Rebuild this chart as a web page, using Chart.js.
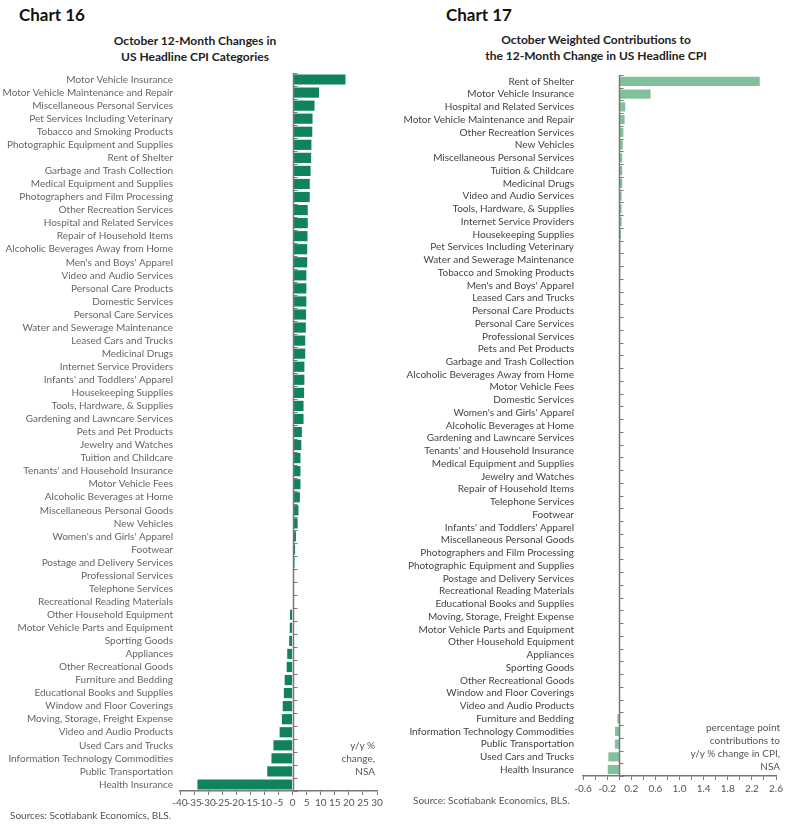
<!DOCTYPE html>
<html>
<head>
<meta charset="utf-8">
<script src="https://cdn.jsdelivr.net/npm/chart.js@4.4.1/dist/chart.umd.min.js"></script>
<style>
  body { margin: 0; background: #fff; font-family: Lato, "Liberation Sans", sans-serif; }
  #page { position: relative; width: 790px; height: 828px; overflow: hidden; }
  .abs { position: absolute; white-space: nowrap; }
  .chartNo { font-weight: bold; font-size: 17px; color: #111; }
  .title { font-weight: bold; font-size: 12px; color: #222; text-align: center; line-height: 16px; }
  .note { font-size: 10px; color: #555; line-height: 13px; text-align: right; }
  .src { font-size: 10px; color: #555; }
  canvas { position: absolute; }
</style>
</head>
<body>
<div id="page">
  <div class="abs chartNo" style="left:19px;top:4px;">Chart 16</div>
  <div class="abs chartNo" style="left:446px;top:4px;">Chart 17</div>
  <div class="abs title" style="left:95px;width:200px;top:33px;">October 12-Month Changes in<br>US Headline CPI Categories</div>
  <div class="abs title" style="left:476px;width:240px;top:32px;">October Weighted Contributions to<br>the 12-Month Change in US Headline CPI</div>

  <canvas id="chart16" width="392" height="750" style="left:0;top:60px;"></canvas>
  <canvas id="chart17" width="390" height="736" style="left:400px;top:60px;"></canvas>

  <div class="abs note" style="left:300px;width:75px;top:739px;">y/y %<br>change,<br>NSA</div>
  <div class="abs note" style="left:640px;width:140px;top:721px;">percentage point<br>contributions to<br>y/y % change in CPI,<br>NSA</div>
  <div class="abs src" style="left:10px;top:809px;">Sources: Scotiabank Economics, BLS.</div>
  <div class="abs src" style="left:413px;top:794px;">Source: Scotiabank Economics, BLS.</div>
</div>

<script>
// Chart 16: 12-month % change by category (y/y %, NSA)
const categories16 = [
  "Motor Vehicle Insurance", "Motor Vehicle Maintenance and Repair", "Miscellaneous Personal Services",
  "Pet Services Including Veterinary", "Tobacco and Smoking Products", "Photographic Equipment and Supplies",
  "Rent of Shelter", "Garbage and Trash Collection", "Medical Equipment and Supplies",
  "Photographers and Film Processing", "Other Recreation Services", "Hospital and Related Services",
  "Repair of Household Items", "Alcoholic Beverages Away from Home", "Men's and Boys' Apparel",
  "Video and Audio Services", "Personal Care Products", "Domestic Services", "Personal Care Services",
  "Water and Sewerage Maintenance", "Leased Cars and Trucks", "Medicinal Drugs", "Internet Service Providers",
  "Infants' and Toddlers' Apparel", "Housekeeping Supplies", "Tools, Hardware, & Supplies",
  "Gardening and Lawncare Services", "Pets and Pet Products", "Jewelry and Watches", "Tuition and Childcare",
  "Tenants' and Household Insurance", "Motor Vehicle Fees", "Alcoholic Beverages at Home",
  "Miscellaneous Personal Goods", "New Vehicles", "Women's and Girls' Apparel", "Footwear",
  "Postage and Delivery Services", "Professional Services", "Telephone Services",
  "Recreational Reading Materials", "Other Household Equipment", "Motor Vehicle Parts and Equipment",
  "Sporting Goods", "Appliances", "Other Recreational Goods", "Furniture and Bedding",
  "Educational Books and Supplies", "Window and Floor Coverings", "Moving, Storage, Freight Expense",
  "Video and Audio Products", "Used Cars and Trucks", "Information Technology Commodities",
  "Public Transportation", "Health Insurance"
];
const values16 = [
  18.8, 9.4, 7.8, 7.1, 7.0, 6.7, 6.6, 6.4, 6.1, 6.1, 5.4, 5.4, 5.3, 5.2, 5.2, 4.9, 4.9, 4.9, 4.8,
  4.7, 4.5, 4.5, 4.2, 4.2, 4.1, 3.9, 3.9, 3.3, 3.1, 2.8, 2.8, 2.8, 2.6, 2.1, 1.8, 1.2, 0.9,
  0.7, 0.5, 0.2, 0.0, -0.9, -1.0, -1.2, -1.9, -2.1, -2.8, -3.1, -3.5, -3.8, -4.6, -6.8, -7.5, -9.0, -33.8
];

// Chart 17: weighted contributions (percentage points)
const categories17 = [
  "Rent of Shelter", "Motor Vehicle Insurance", "Hospital and Related Services",
  "Motor Vehicle Maintenance and Repair", "Other Recreation Services", "New Vehicles",
  "Miscellaneous Personal Services", "Tuition & Childcare", "Medicinal Drugs", "Video and Audio Services",
  "Tools, Hardware, & Supplies", "Internet Service Providers", "Housekeeping Supplies",
  "Pet Services Including Veterinary", "Water and Sewerage Maintenance", "Tobacco and Smoking Products",
  "Men's and Boys' Apparel", "Leased Cars and Trucks", "Personal Care Products", "Personal Care Services",
  "Professional Services", "Pets and Pet Products", "Garbage and Trash Collection",
  "Alcoholic Beverages Away from Home", "Motor Vehicle Fees", "Domestic Services",
  "Women's and Girls' Apparel", "Alcoholic Beverages at Home", "Gardening and Lawncare Services",
  "Tenants' and Household Insurance", "Medical Equipment and Supplies", "Jewelry and Watches",
  "Repair of Household Items", "Telephone Services", "Footwear", "Infants' and Toddlers' Apparel",
  "Miscellaneous Personal Goods", "Photographers and Film Processing", "Photographic Equipment and Supplies",
  "Postage and Delivery Services", "Recreational Reading Materials", "Educational Books and Supplies",
  "Moving, Storage, Freight Expense", "Motor Vehicle Parts and Equipment", "Other Household Equipment",
  "Appliances", "Sporting Goods", "Other Recreational Goods", "Window and Floor Coverings",
  "Video and Audio Products", "Furniture and Bedding", "Information Technology Commodities",
  "Public Transportation", "Used Cars and Trucks", "Health Insurance"
];
const values17 = [
  2.33, 0.52, 0.10, 0.09, 0.07, 0.06, 0.05, 0.05, 0.05, 0.04, 0.04, 0.04, 0.03, 0.02, 0.02, 0.02,
  0.015, 0.015, 0.012, 0.012, 0.01, 0.01, 0.01, 0.01, 0.008, 0.005, 0.005, 0.005, 0.004, 0.003,
  0.003, 0.002, 0.002, 0.001, 0.001, 0.001, 0.001, 0.0, 0.0, 0.0, 0.0, 0.0, 0.0, 0.0, 0.0,
  0.0, 0.0, 0.0, 0.0, 0.0, -0.03, -0.07, -0.07, -0.18, -0.19
];

const ticks16 = [-40, -35, -30, -25, -20, -15, -10, -5, 0, 5, 10, 15, 20, 25, 30];
const tickLabels17 = ["-0.6", "-0.2", "0.2", "0.6", "1.0", "1.4", "1.8", "2.2", "2.6"];

// draws the zero line with little marks between the categories
const zeroAxis = {
  id: "zeroAxis",
  afterDatasetsDraw(chart) {
    const { ctx, chartArea, scales } = chart;
    const x0 = Math.round(scales.x.getPixelForValue(0)) + 0.5;
    const n = chart.data.labels.length;
    ctx.save();
    ctx.strokeStyle = "#777";
    ctx.lineWidth = 1.5;
    ctx.beginPath();
    ctx.moveTo(x0, chartArea.top);
    ctx.lineTo(x0, chartArea.bottom);
    ctx.stroke();
    ctx.lineWidth = 1;
    ctx.beginPath();
    for (let i = 0; i <= n; i++) {
      const y = Math.round(scales.y.getPixelForValue(i - 0.5)) + 0.5;
      ctx.moveTo(x0, y);
      ctx.lineTo(x0 + 4, y);
    }
    ctx.stroke();
    ctx.restore();
  }
};

function makeChart(canvasId, labels, values, color, opts) {
  const ctx = document.getElementById(canvasId).getContext("2d");
  return new Chart(ctx, {
    type: "bar",
    data: {
      labels: labels,
      datasets: [{
        data: values,
        backgroundColor: color,
        borderWidth: 0,
        barPercentage: opts.barPct,
        categoryPercentage: 1
      }]
    },
    options: {
      indexAxis: "y",
      responsive: false,
      animation: false,
      devicePixelRatio: 1,
      layout: { padding: opts.padding },
      plugins: { legend: { display: false }, tooltip: { enabled: false } },
      scales: {
        y: {
          grid: { display: false, drawTicks: false },
          border: { display: false },
          ticks: {
            autoSkip: false,
            padding: opts.labelPad,
            color: opts.labelColor,
            font: { family: "Lato", size: opts.labelSize }
          },
          afterFit: (scale) => { scale.width = opts.yWidth; }
        },
        x: opts.x
      }
    },
    plugins: [zeroAxis]
  });
}

makeChart("chart16", categories16, values16, "#10835a", {
  barPct: 0.78,
  padding: { top: 12, right: 15, left: 0, bottom: 0 },
  labelPad: 7,
  labelColor: "#666",
  labelSize: 10,
  yWidth: 180,
  x: {
    min: -40,
    max: 30,
    afterBuildTicks: (scale) => { scale.ticks = ticks16.map(v => ({ value: v })); },
    grid: { display: true, drawOnChartArea: false, tickLength: 4, color: "#777" },
    border: { display: true, color: "#777", width: 1.5 },
    ticks: {
      autoSkip: false,
      maxRotation: 0,
      padding: 2,
      color: "#555",
      font: { family: "Lato", size: 10 },
      callback: (v) => String(v)
    },
    afterFit: (scale) => { scale.height = 19; }
  }
});

makeChart("chart17", categories17, values17, "#82c09c", {
  barPct: 0.72,
  padding: { top: 11, right: 14, left: 0, bottom: 0 },
  labelPad: 9,
  labelColor: "#444",
  labelSize: 10,
  yWidth: 183,
  x: {
    min: -0.6,
    max: 2.6,
    afterBuildTicks: (scale) => {
      const t = [];
      for (let i = 0; i <= 16; i++) t.push({ value: -0.6 + i * 0.2 });
      scale.ticks = t;
    },
    grid: { display: true, drawOnChartArea: false, tickLength: 4, color: "#777" },
    border: { display: true, color: "#777", width: 1.5 },
    ticks: {
      autoSkip: false,
      maxRotation: 0,
      padding: 3,
      color: "#555",
      font: { family: "Lato", size: 10 },
      callback: function (v, i) { return i % 2 === 0 ? tickLabels17[i / 2] : ""; }
    },
    afterFit: (scale) => { scale.height = 20; }
  }
});
</script>
</body>
</html>
